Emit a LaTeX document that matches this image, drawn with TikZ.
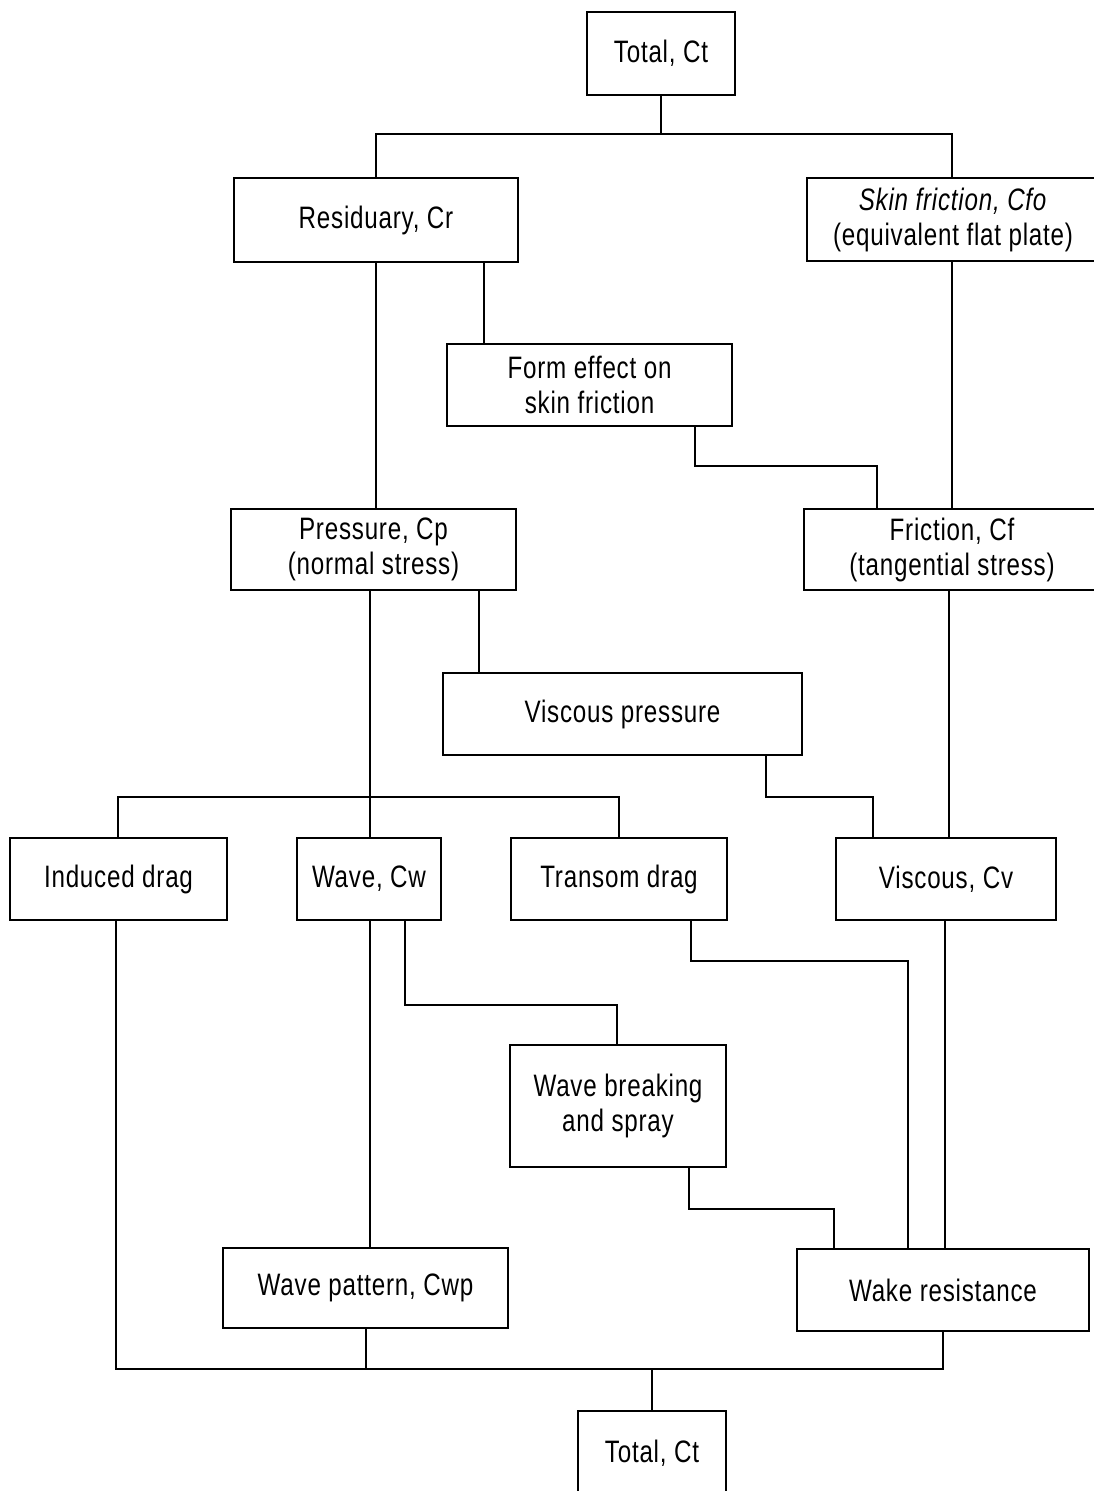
\documentclass[tikz,border=0pt]{standalone}
\usepackage{fontspec}
\setmainfont[FakeStretch=0.78,LetterSpace=2.5]{Liberation Sans}
\begin{document}
\begin{tikzpicture}[x=1pt,y=-1pt,
  box/.style={draw,line width=1.2pt,rectangle,inner sep=0pt,align=center,
    font=\fontsize{31}{35}\selectfont},
  conn/.style={line width=1.2pt}]
\useasboundingbox[fill=white] (0,0) rectangle (1094,1491);
% boxes
\node[box,minimum width=148pt,minimum height=83pt] (t1) at (661,53.5) {Total, Ct};
\node[box,minimum width=284pt,minimum height=84pt] (res) at (376,220) {Residuary, Cr};
\node[box,minimum width=292pt,minimum height=83pt] (sf) at (953,219.5) {\textit{Skin friction, Cfo}\\(equivalent flat plate)};
\node[box,minimum width=285pt,minimum height=82pt] (fe) at (589.5,385) {Form effect on\\skin friction};
\node[box,minimum width=285pt,minimum height=81pt] (pr) at (373.5,549.5) {Pressure, Cp\\(normal stress)};
\node[box,minimum width=296pt,minimum height=81pt] (fr) at (952,549.5) {Friction, Cf\\(tangential stress)};
\node[box,minimum width=359pt,minimum height=82pt] (vp) at (622.5,714) {Viscous pressure};
\node[box,minimum width=217pt,minimum height=82pt] (id) at (118.5,879) {Induced drag};
\node[box,minimum width=144pt,minimum height=82pt] (wc) at (369,879) {Wave, Cw};
\node[box,minimum width=216pt,minimum height=82pt] (td) at (619,879) {Transom drag};
\node[box,minimum width=220pt,minimum height=82pt] (vc) at (946,879) {Viscous, Cv};
\node[box,minimum width=216pt,minimum height=122pt] (wb) at (618,1106) {Wave breaking\\and spray};
\node[box,minimum width=285pt,minimum height=80pt] (wp) at (365.5,1288) {Wave pattern, Cwp};
\node[box,minimum width=292pt,minimum height=82pt] (wk) at (943,1290) {Wake resistance};
\node[box,minimum width=148pt,minimum height=84pt] (t2) at (652,1453) {Total, Ct};
% column / row coordinates
\coordinate (c376) at (376,0);
\coordinate (c484) at (484,0);
\coordinate (c695) at (695,0);
\coordinate (c877) at (877,0);
\coordinate (c952) at (952,0);
\coordinate (c370) at (370,0);
\coordinate (c118) at (118,0);
\coordinate (c479) at (479,0);
\coordinate (c766) at (766,0);
\coordinate (c873) at (873,0);
\coordinate (c949) at (949,0);
\coordinate (c405) at (405,0);
\coordinate (c617) at (617,0);
\coordinate (c691) at (691,0);
\coordinate (c908) at (908,0);
\coordinate (c945) at (945,0);
\coordinate (c689) at (689,0);
\coordinate (c834) at (834,0);
\coordinate (c366) at (366,0);
\coordinate (c943) at (943,0);
\coordinate (c116) at (116,0);
\coordinate (c619) at (619,0);
\coordinate (rA) at (0,134);
\coordinate (rB) at (0,466);
\coordinate (rC) at (0,797);
\coordinate (rD) at (0,1005);
\coordinate (rE) at (0,961);
\coordinate (rF) at (0,1209);
\coordinate (rG) at (0,1369);
% connectors
\draw[conn] (t1.south) -- (t1.south |- rA);
\draw[conn] (res.north -| c376) |- (rA -| c376) -- (rA -| c952) -- (sf.north -| c952);
\draw[conn] (res.south -| c376) -- (pr.north -| c376);
\draw[conn] (res.south -| c484) -- (fe.north -| c484);
\draw[conn] (fe.south -| c695) -- (rB -| c695) -- (rB -| c877) -- (fr.north -| c877);
\draw[conn] (sf.south -| c952) -- (fr.north -| c952);
\draw[conn] (pr.south -| c370) -- (wc.north -| c370);
\draw[conn] (id.north -| c118) -- (rC -| c118) -- (rC -| c619) -- (td.north -| c619);
\draw[conn] (pr.south -| c479) -- (vp.north -| c479);
\draw[conn] (vp.south -| c766) -- (rC -| c766) -- (rC -| c873) -- (vc.north -| c873);
\draw[conn] (fr.south -| c949) -- (vc.north -| c949);
\draw[conn] (wc.south -| c370) -- (wp.north -| c370);
\draw[conn] (wc.south -| c405) -- (rD -| c405) -- (rD -| c617) -- (wb.north -| c617);
\draw[conn] (td.south -| c691) -- (rE -| c691) -- (rE -| c908) -- (wk.north -| c908);
\draw[conn] (vc.south -| c945) -- (wk.north -| c945);
\draw[conn] (wb.south -| c689) -- (rF -| c689) -- (rF -| c834) -- (wk.north -| c834);
\draw[conn] (id.south -| c116) -- (rG -| c116) -- (rG -| c943) -- (wk.south -| c943);
\draw[conn] (wp.south -| c366) -- (rG -| c366);
\draw[conn] (t2.north) -- (t2.north |- rG);
\end{tikzpicture}
\end{document}
